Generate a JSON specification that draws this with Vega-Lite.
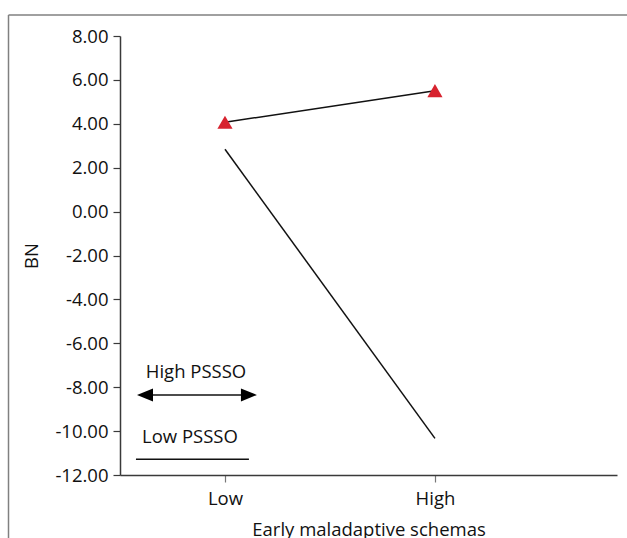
{
  "$schema": "https://vega.github.io/schema/vega-lite/v6.json",
  "width": 497,
  "height": 439,
  "autosize": "none",
  "padding": {"left": 120, "top": 36, "right": 10, "bottom": 63},
  "background": "white",
  "config": {
    "view": {"stroke": null},
    "font": "Open Sans",
    "text": {"font": "Open Sans"}
  },
  "datasets": {
    "series": [
      {"group": "High PSSSO", "schemas": "Low", "x": 0, "y": 4.07},
      {"group": "High PSSSO", "schemas": "High", "x": 1, "y": 5.51},
      {"group": "Low PSSSO", "schemas": "Low", "x": 0, "y": 2.84},
      {"group": "Low PSSSO", "schemas": "High", "x": 1, "y": -10.33}
    ],
    "legendText": [
      {"label": "High PSSSO", "x": -0.138, "y": -7.57},
      {"label": "Low PSSSO", "x": -0.167, "y": -10.53}
    ],
    "legendLines": [
      {"key": "High PSSSO", "x": -0.40, "x2": 0.13, "y": -8.355},
      {"key": "Low PSSSO", "x": -0.424, "x2": 0.114, "y": -11.28}
    ],
    "arrowheads": [
      {"dir": "left", "x": -0.381, "y": -8.355},
      {"dir": "right", "x": 0.114, "y": -8.355}
    ],
    "frame": [
      {"side": "top", "x": -1.031, "x2": 2.0, "y": 8.96, "y2": 8.96},
      {"side": "left", "x": -1.031, "x2": -1.031, "y": 8.96, "y2": -16}
    ]
  },
  "encoding": {
    "x": {
      "field": "x",
      "type": "quantitative",
      "scale": {"domain": [-0.5, 1.867], "nice": false, "zero": false},
      "axis": {
        "title": "Early maladaptive schemas",
        "values": [0, 1],
        "labelExpr": "datum.value == 0 ? 'Low' : 'High'",
        "grid": false,
        "tickSize": 7,
        "labelPadding": 7,
        "titlePadding": 13,
        "labelFontSize": 18.5,
        "titleFontSize": 18.5,
        "titleFontWeight": "normal",
        "labelColor": "#111",
        "titleColor": "#111",
        "domainColor": "#3a3a3a",
        "domainWidth": 1.5,
        "tickColor": "#777",
        "tickWidth": 1.2,
        "labelFont": "Open Sans",
        "titleFont": "Open Sans"
      }
    },
    "y": {
      "field": "y",
      "type": "quantitative",
      "scale": {"domain": [-12, 8], "nice": false, "zero": false},
      "axis": {
        "title": "BN",
        "values": [-12, -10, -8, -6, -4, -2, 0, 2, 4, 6, 8],
        "labelExpr": "(datum.value < 0 ? '-' : '') + format(abs(datum.value), '.2f')",
        "grid": false,
        "tickSize": 7,
        "labelPadding": 5,
        "titlePadding": 13,
        "labelFontSize": 18.5,
        "titleFontSize": 18.5,
        "titleFontWeight": "normal",
        "labelColor": "#111",
        "titleColor": "#111",
        "domainColor": "#3a3a3a",
        "domainWidth": 1.5,
        "tickColor": "#3a3a3a",
        "tickWidth": 1.2,
        "labelFont": "Open Sans",
        "titleFont": "Open Sans"
      }
    }
  },
  "layer": [
    {
      "data": {"name": "series"},
      "mark": {"type": "line", "color": "#111", "strokeWidth": 1.5},
      "encoding": {"detail": {"field": "group"}}
    },
    {
      "data": {"name": "series"},
      "transform": [{"filter": "datum.group == 'High PSSSO'"}],
      "mark": {"type": "point", "shape": "triangle-up", "filled": true, "color": "#d7232f", "opacity": 1, "size": 230}
    },
    {
      "data": {"name": "legendText"},
      "mark": {"type": "text", "fontSize": 18.5, "color": "#111", "baseline": "alphabetic", "align": "center", "font": "Open Sans"},
      "encoding": {"text": {"field": "label"}}
    },
    {
      "data": {"name": "legendLines"},
      "mark": {"type": "rule", "color": "#111", "strokeWidth": 1.5},
      "encoding": {"x2": {"field": "x2"}}
    },
    {
      "data": {"name": "arrowheads"},
      "mark": {"type": "point", "filled": true, "color": "#000", "opacity": 1, "size": 256},
      "encoding": {
        "shape": {
          "field": "dir",
          "scale": {"domain": ["left", "right"], "range": ["M-1,0L1,-0.8L1,0.8Z", "M1,0L-1,-0.8L-1,0.8Z"]},
          "legend": null
        }
      }
    },
    {
      "data": {"name": "frame"},
      "mark": {"type": "rule", "color": "#808080", "strokeWidth": 1.5},
      "encoding": {"x2": {"field": "x2"}, "y2": {"field": "y2"}}
    }
  ]
}
